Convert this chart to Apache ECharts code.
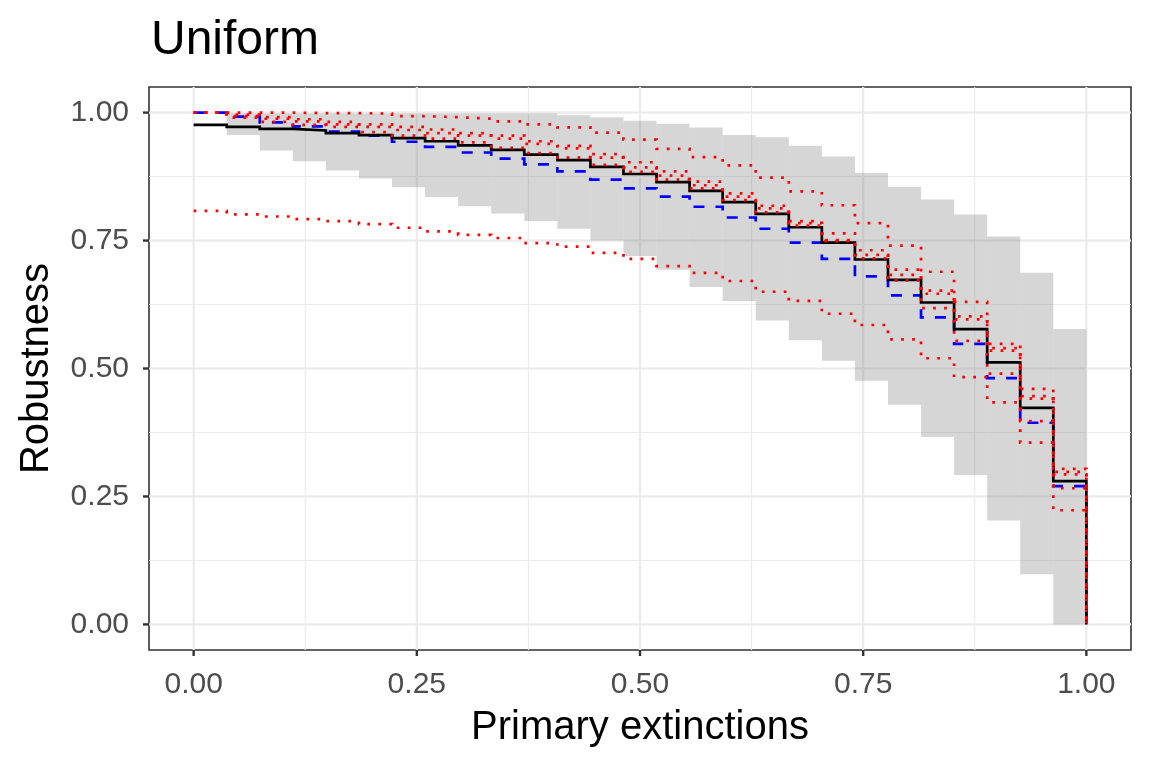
<!DOCTYPE html>
<html>
<head>
<meta charset="utf-8">
<script src="https://cdn.jsdelivr.net/npm/echarts@6/dist/echarts.min.js"></script>
<style>
html,body{margin:0;padding:0;background:#ffffff;}
#chart{width:1152px;height:768px;}
</style>
</head>
<body>
<div id="chart"></div>
<script>
// ---- data ----
const xSteps = [0/27, 1/27, 2/27, 3/27, 4/27, 5/27, 6/27, 7/27, 8/27, 9/27, 10/27, 11/27, 12/27, 13/27,
  14/27, 15/27, 16/27, 17/27, 18/27, 19/27, 20/27, 21/27, 22/27, 23/27, 24/27, 25/27, 26/27, 27/27];

const observed = [0.976, 0.972, 0.968, 0.965, 0.960, 0.956, 0.950, 0.944, 0.936, 0.927, 0.918, 0.907, 0.894, 0.880,
  0.864, 0.847, 0.825, 0.802, 0.776, 0.746, 0.713, 0.673, 0.629, 0.577, 0.512, 0.423, 0.280, 0];

const nullModel = [1.000, 0.992, 0.981, 0.973, 0.963, 0.955, 0.943, 0.933, 0.922, 0.910, 0.899, 0.885, 0.869, 0.852,
  0.836, 0.816, 0.795, 0.773, 0.746, 0.714, 0.680, 0.643, 0.600, 0.548, 0.481, 0.394, 0.270, 0];

const redTop = [1.000, 1.000, 1.000, 0.999, 0.999, 0.998, 0.993, 0.991, 0.988, 0.983, 0.977, 0.971, 0.961, 0.947,
  0.929, 0.913, 0.897, 0.873, 0.846, 0.819, 0.784, 0.740, 0.689, 0.630, 0.548, 0.460, 0.304, 0];

const redUpperA = [1.000, 0.996, 0.991, 0.987, 0.982, 0.977, 0.972, 0.967, 0.960, 0.955, 0.944, 0.935, 0.919, 0.903,
  0.885, 0.865, 0.842, 0.818, 0.788, 0.764, 0.731, 0.693, 0.652, 0.602, 0.540, 0.446, 0.298, 0];

const redUpperB = [1.000, 0.993, 0.988, 0.983, 0.977, 0.972, 0.966, 0.960, 0.955, 0.949, 0.939, 0.930, 0.912, 0.893,
  0.877, 0.858, 0.836, 0.813, 0.784, 0.751, 0.722, 0.683, 0.646, 0.596, 0.535, 0.441, 0.293, 0];

const redNear = [1.000, 0.990, 0.982, 0.976, 0.972, 0.962, 0.955, 0.949, 0.942, 0.931, 0.921, 0.912, 0.898, 0.884,
  0.869, 0.852, 0.829, 0.805, 0.779, 0.749, 0.715, 0.672, 0.618, 0.554, 0.490, 0.397, 0.266, 0];

const redBottom = [0.808, 0.801, 0.797, 0.792, 0.788, 0.782, 0.775, 0.768, 0.761, 0.755, 0.745, 0.738, 0.726, 0.714,
  0.700, 0.687, 0.671, 0.650, 0.632, 0.607, 0.585, 0.557, 0.520, 0.483, 0.434, 0.355, 0.223, 0];

// gray envelope per step interval (interval k spans xSteps[k]..xSteps[k+1])
const bandLow = [null, 0.956, 0.926, 0.905, 0.887, 0.871, 0.854, 0.835, 0.817, 0.803, 0.788, 0.773, 0.750, 0.720,
  0.693, 0.659, 0.632, 0.594, 0.555, 0.515, 0.476, 0.429, 0.366, 0.292, 0.203, 0.098, 0.000];
const bandHigh = [null, 0.998, 0.998, 0.998, 0.998, 0.998, 0.998, 0.998, 0.998, 0.998, 0.998, 0.995, 0.991, 0.984,
  0.978, 0.971, 0.956, 0.952, 0.935, 0.914, 0.882, 0.855, 0.830, 0.801, 0.758, 0.687, 0.577];

const xBreaks = [0, 0.25, 0.5, 0.75, 1];
const yBreaks = [0, 0.25, 0.5, 0.75, 1];
const minorBreaks = [0.125, 0.375, 0.625, 0.875];

// ---- build series data ----
const pairs = arr => xSteps.map((x, i) => [x, arr[i]]);
const bandData = [];
for (let k = 0; k < bandLow.length; k++) {
  if (bandLow[k] === null) continue;
  bandData.push([xSteps[k], xSteps[k + 1], bandLow[k], bandHigh[k]]);
}
// [value, orientation (0 vertical / 1 horizontal), major flag]
const gridData = [];
minorBreaks.forEach(v => { gridData.push([v, 0, 0]); gridData.push([v, 1, 0]); });
xBreaks.forEach(v => gridData.push([v, 0, 1]));
yBreaks.forEach(v => gridData.push([v, 1, 1]));
const tickData = [];
xBreaks.forEach(v => tickData.push([v, 0]));
yBreaks.forEach(v => tickData.push([v, 1]));

const FONT = 'Liberation Sans';
const chart = echarts.init(document.getElementById('chart'), null, {renderer: 'canvas'});

function stepLine(name, arr, color, type, z) {
  return {
    name, type: 'line', step: 'end', data: pairs(arr), z,
    symbol: 'none', silent: true, animation: false,
    lineStyle: {color, width: 2.7, type, cap: 'butt', join: 'miter'}
  };
}
const dotted = [2.7, 8.3];

chart.setOption({
  animation: false,
  backgroundColor: '#ffffff',
  title: {
    text: 'Uniform', left: 146, top: 12,
    textStyle: {fontFamily: FONT, fontSize: 48, fontWeight: 'normal', color: '#000000'}
  },
  grid: {
    left: 149, right: 21, top: 87, bottom: 118,
    show: true, borderColor: '#333333', borderWidth: 1.6, backgroundColor: 'transparent'
  },
  xAxis: {
    type: 'value', min: -0.05, max: 1.05,
    name: 'Primary extinctions', nameLocation: 'middle', nameGap: 58,
    nameTextStyle: {fontFamily: FONT, fontSize: 40, color: '#000000'},
    axisLine: {show: false},
    splitLine: {show: false},
    axisTick: {show: false},
    axisLabel: {customValues: xBreaks, formatter: v => v.toFixed(2), fontFamily: FONT, fontSize: 30,
      color: '#4d4d4d', margin: 20}
  },
  yAxis: {
    type: 'value', min: -0.05, max: 1.05,
    name: 'Robustness', nameLocation: 'middle', nameGap: 92, nameRotate: 90,
    nameTextStyle: {fontFamily: FONT, fontSize: 40, color: '#000000'},
    axisLine: {show: false},
    splitLine: {show: false},
    axisTick: {show: false},
    axisLabel: {customValues: yBreaks, formatter: v => v.toFixed(2), fontFamily: FONT, fontSize: 30,
      color: '#4d4d4d', margin: 20}
  },
  series: [
    {
      name: 'grid', type: 'custom', silent: true, z: 1, data: gridData,
      renderItem: (params, api) => {
        const cs = params.coordSys;
        const v = api.value(0), orient = api.value(1), major = api.value(2);
        const style = {stroke: '#ebebeb', lineWidth: major ? 2.2 : 1.1, fill: null};
        if (orient === 0) {
          const p = api.coord([v, 0]);
          return {type: 'line', shape: {x1: p[0], y1: cs.y, x2: p[0], y2: cs.y + cs.height}, style};
        }
        const p = api.coord([0, v]);
        return {type: 'line', shape: {x1: cs.x, y1: p[1], x2: cs.x + cs.width, y2: p[1]}, style};
      }
    },
    {
      name: 'ticks', type: 'custom', silent: true, z: 6, data: tickData, clip: false,
      renderItem: (params, api) => {
        const cs = params.coordSys;
        const v = api.value(0), orient = api.value(1);
        const style = {stroke: '#333333', lineWidth: 2.4, fill: null};
        if (orient === 0) {
          const p = api.coord([v, 0]);
          const yb = cs.y + cs.height;
          return {type: 'line', shape: {x1: p[0], y1: yb, x2: p[0], y2: yb + 6}, style};
        }
        const p = api.coord([0, v]);
        return {type: 'line', shape: {x1: cs.x - 6, y1: p[1], x2: cs.x, y2: p[1]}, style};
      }
    },
    {
      name: 'envelope', type: 'custom', silent: true, z: 2, data: bandData,
      encode: {x: [0, 1], y: [2, 3]},
      renderItem: (params, api) => {
        const p0 = api.coord([api.value(0), api.value(3)]);
        const p1 = api.coord([api.value(1), api.value(2)]);
        return {type: 'rect', shape: {x: p0[0], y: p0[1], width: p1[0] - p0[0], height: p1[1] - p0[1]},
          style: {fill: 'rgba(127,127,127,0.32)'}};
      }
    },
    stepLine('null', nullModel, '#0000ff', [11, 11], 3),
    stepLine('observed', observed, '#000000', 'solid', 4),
    stepLine('bottom', redBottom, '#ff0000', dotted, 5),
    stepLine('near', redNear, '#ff0000', dotted, 5),
    stepLine('upperB', redUpperB, '#ff0000', dotted, 5),
    stepLine('upperA', redUpperA, '#ff0000', dotted, 5),
    stepLine('top', redTop, '#ff0000', dotted, 5)
  ]
});
</script>
</body>
</html>
